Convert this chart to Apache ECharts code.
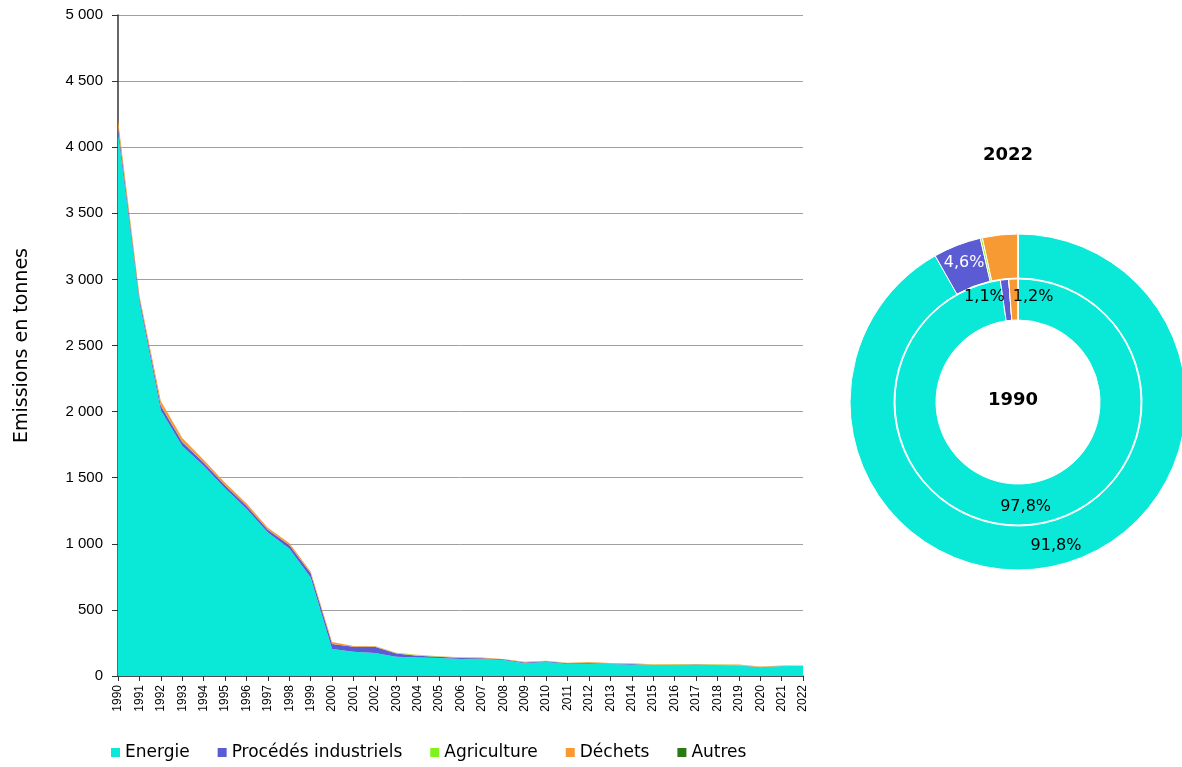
<!DOCTYPE html>
<html>
<head>
<meta charset="utf-8">
<script src="https://cdn.jsdelivr.net/npm/echarts@6/dist/echarts.min.js"></script>
<style>
  html, body { margin: 0; padding: 0; background: #fff; }
  #chart { width: 1182px; height: 767px; }
</style>
</head>
<body>
<div id="chart"></div>
<script>
// Années
const years = ['1990','1991','1992','1993','1994','1995','1996','1997','1998','1999',
  '2000','2001','2002','2003','2004','2005','2006','2007','2008','2009','2010','2011',
  '2012','2013','2014','2015','2016','2017','2018','2019','2020','2021','2022'];

// Emissions en tonnes par secteur
const energie = [4110, 2830, 2010, 1740, 1590, 1420, 1265, 1085, 965, 745,
  204, 184, 174, 146, 139, 136, 128, 128, 121, 96, 106, 91,
  93, 91, 86, 81, 81, 83, 81, 79, 63, 73, 79];
const procedes = [46, 30, 35, 30, 25, 22, 22, 22, 25, 33,
  38, 37, 48, 24, 15, 10, 9, 6, 5, 6, 6, 6,
  6, 4, 5, 3, 3, 4, 3, 3, 4, 3, 4];
const agriculture = [1, 1, 1, 1, 1, 1, 1, 1, 1, 1,
  1, 1, 1, 3, 4, 2, 1, 1, 1, 1, 1, 1,
  1, 1, 1, 1, 3, 2, 3, 2, 1, 1, 0.2];
const dechets = [50, 20, 35, 30, 20, 18, 18, 13, 15, 12,
  14, 5, 4, 3, 3, 2, 3, 4, 2, 4, 3, 3,
  6, 3, 4, 3, 3, 2, 2, 3, 3, 3, 3];
const autres = new Array(years.length).fill(0);

// Parts (%) affichées dans les anneaux
const sectorNames = ['Energie', 'Procédés industriels', 'Agriculture', 'Déchets', 'Autres'];
const share1990 = [97.8, 1.1, 0, 1.2, 0];
const share2022 = [91.8, 4.6, 0.2, 3.4, 0];

const COLORS = ['#0AE8D8', '#5B5BD3', '#7FF21E', '#F79A33', '#2A7A14'];

const fmtThousands = v => String(v).replace(/\B(?=(\d{3})+(?!\d))/g, ' ');
const fmtPct = v => v.toFixed(1).replace('.', ',') + '%';

const chart = echarts.init(document.getElementById('chart'));

// séries empilées
const areaSeries = [energie, procedes, agriculture, dechets, autres].map((data, i) => ({
  name: sectorNames[i],
  type: 'line',
  stack: 'total',
  data: data,
  symbol: 'none',
  lineStyle: { width: 0 },
  areaStyle: { color: COLORS[i], opacity: 1 },
  itemStyle: { color: COLORS[i] },
  z: 2
}));

// labels des anneaux (décalage pour les petites parts)
const innerLabel = [
  { color: '#000' },
  { color: '#000', padding: [0, 44, 0, 0] },
  { show: false },
  { color: '#000', padding: [0, 0, 0, 38] },
  { show: false }
];
const outerLabel = [
  { color: '#000' },
  { color: '#fff' },
  { show: false },
  { color: '#000' },
  { show: false }
];

const pieData = (shares, labels) => shares.map((v, i) => ({
  name: sectorNames[i],
  value: v,
  itemStyle: { color: COLORS[i] },
  label: labels[i]
}));

const pieCommon = {
  type: 'pie',
  center: [1018, 402],
  startAngle: 90,
  clockwise: true,
  avoidLabelOverlap: false,
  silent: true,
  labelLine: { show: false },
  emphasis: { disabled: true },
  itemStyle: { borderColor: '#fff', borderWidth: 1 },
  label: {
    position: 'inside',
    fontFamily: 'DejaVu Sans',
    fontSize: 16,
    formatter: p => fmtPct(p.value)
  }
};

const titleStyle = { fontFamily: 'DejaVu Sans', fontWeight: 'bold', fontSize: 18, color: '#000' };

const option = {
  animation: false,
  color: COLORS,
  textStyle: { fontFamily: 'DejaVu Sans' },
  title: [
    { text: '2022', left: 1003, top: 141, textAlign: 'center', textStyle: titleStyle },
    { text: '1990', left: 1008, top: 386, textAlign: 'center', textStyle: titleStyle }
  ],
  legend: {
    data: sectorNames,
    bottom: 1,
    left: 106,
    itemWidth: 9,
    itemHeight: 9,
    itemGap: 28,
    icon: 'rect',
    textStyle: { fontFamily: 'DejaVu Sans', fontSize: 17, color: '#000' }
  },
  grid: { left: 118, right: 379, top: 15, bottom: 91, containLabel: false },
  xAxis: {
    type: 'category',
    data: years,
    boundaryGap: false,
    axisLine: { lineStyle: { color: '#333', width: 1.5 } },
    axisTick: { show: true, length: 5, lineStyle: { color: '#333' } },
    axisLabel: {
      rotate: 90, interval: 0, margin: 9,
      fontFamily: 'Liberation Sans', fontSize: 12, color: '#000'
    }
  },
  yAxis: {
    type: 'value',
    min: 0, max: 5000, interval: 500,
    name: 'Emissions en tonnes',
    nameLocation: 'middle',
    nameGap: 86,
    nameTextStyle: { fontFamily: 'DejaVu Sans', fontSize: 19, color: '#000' },
    axisLine: { show: true, lineStyle: { color: '#333', width: 1.5 } },
    axisTick: { show: true, length: 6, lineStyle: { color: '#333' } },
    splitLine: { lineStyle: { color: '#A0A0A0', width: 1 } },
    axisLabel: {
      formatter: fmtThousands, margin: 15,
      fontFamily: 'Liberation Sans', fontSize: 15, color: '#000'
    }
  },
  series: [
    ...areaSeries,
    { ...pieCommon, name: '1990', radius: [82, 123], data: pieData(share1990, innerLabel) },
    { ...pieCommon, name: '2022', radius: [124, 168], data: pieData(share2022, outerLabel) }
  ]
};

chart.setOption(option);
</script>
</body>
</html>
